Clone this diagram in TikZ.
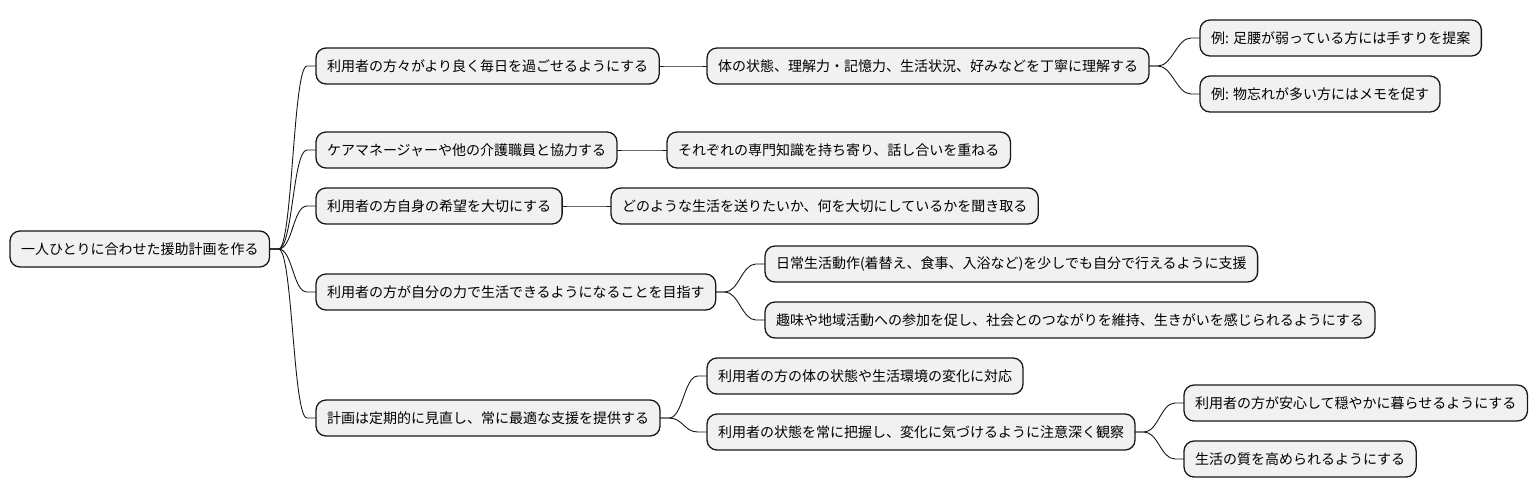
\documentclass[tikz,border=0pt]{standalone}
\usepackage{fontspec}
\setmainfont{Noto Sans CJK JP}
\definecolor{boxfill}{HTML}{F1F1F1}
\definecolor{lineclr}{HTML}{181818}
\tikzset{
  mmbox/.style={draw=lineclr, fill=boxfill, line width=1.3pt, rounded corners=10pt,
    inner xsep=11pt, inner ysep=0pt, minimum height=36pt, outer sep=0pt, anchor=west,
    font=\fontsize{14pt}{17pt}\selectfont},
  mmline/.style={draw=lineclr, line width=0.9pt}
}
\newcommand\mmlink[2]{%
  \draw[mmline] (#1.east) -- ([xshift=9pt]#1.east)
    .. controls ([xshift=23pt]#1.east) and ([xshift=-23pt]#2.west) ..
    ([xshift=-9pt]#2.west) -- (#2.west);}
\begin{document}
\begin{tikzpicture}[x=1pt,y=-1pt]
\useasboundingbox (0,0) rectangle (1538,499);
\node[mmbox] (root) at (10,249) {一人ひとりに合わせた援助計画を作る};
\node[mmbox] (a) at (316,66) {利用者の方々がより良く毎日を過ごせるようにする};
\node[mmbox] (b) at (316,150) {ケアマネージャーや他の介護職員と協力する};
\node[mmbox] (c) at (316,206) {利用者の方自身の希望を大切にする};
\node[mmbox] (d) at (316,292) {利用者の方が自分の力で生活できるようになることを目指す};
\node[mmbox] (e) at (316,418) {計画は定期的に見直し、常に最適な支援を提供する};
\node[mmbox] (a1) at (707,66) {体の状態、理解力・記憶力、生活状況、好みなどを丁寧に理解する};
\node[mmbox] (a1a) at (1200,38) {例: 足腰が弱っている方には手すりを提案};
\node[mmbox] (a1b) at (1200,94) {例: 物忘れが多い方にはメモを促す};
\node[mmbox] (b1) at (667,150) {それぞれの専門知識を持ち寄り、話し合いを重ねる};
\node[mmbox] (c1) at (611,206) {どのような生活を送りたいか、何を大切にしているかを聞き取る};
\node[mmbox] (d1) at (765,264) {日常生活動作(着替え、食事、入浴など)を少しでも自分で行えるように支援};
\node[mmbox] (d2) at (765,320) {趣味や地域活動への参加を促し、社会とのつながりを維持、生きがいを感じられるようにする};
\node[mmbox] (e1) at (707,376) {利用者の方の体の状態や生活環境の変化に対応};
\node[mmbox] (e2) at (707,432) {利用者の状態を常に把握し、変化に気づけるように注意深く観察};
\node[mmbox] (e2a) at (1184,403) {利用者の方が安心して穏やかに暮らせるようにする};
\node[mmbox] (e2b) at (1184,459) {生活の質を高められるようにする};
\mmlink{root}{a}
\mmlink{root}{b}
\mmlink{root}{c}
\mmlink{root}{d}
\mmlink{root}{e}
\mmlink{a}{a1}
\mmlink{a1}{a1a}
\mmlink{a1}{a1b}
\mmlink{b}{b1}
\mmlink{c}{c1}
\mmlink{d}{d1}
\mmlink{d}{d2}
\mmlink{e}{e1}
\mmlink{e}{e2}
\mmlink{e2}{e2a}
\mmlink{e2}{e2b}
\end{tikzpicture}
\end{document}
